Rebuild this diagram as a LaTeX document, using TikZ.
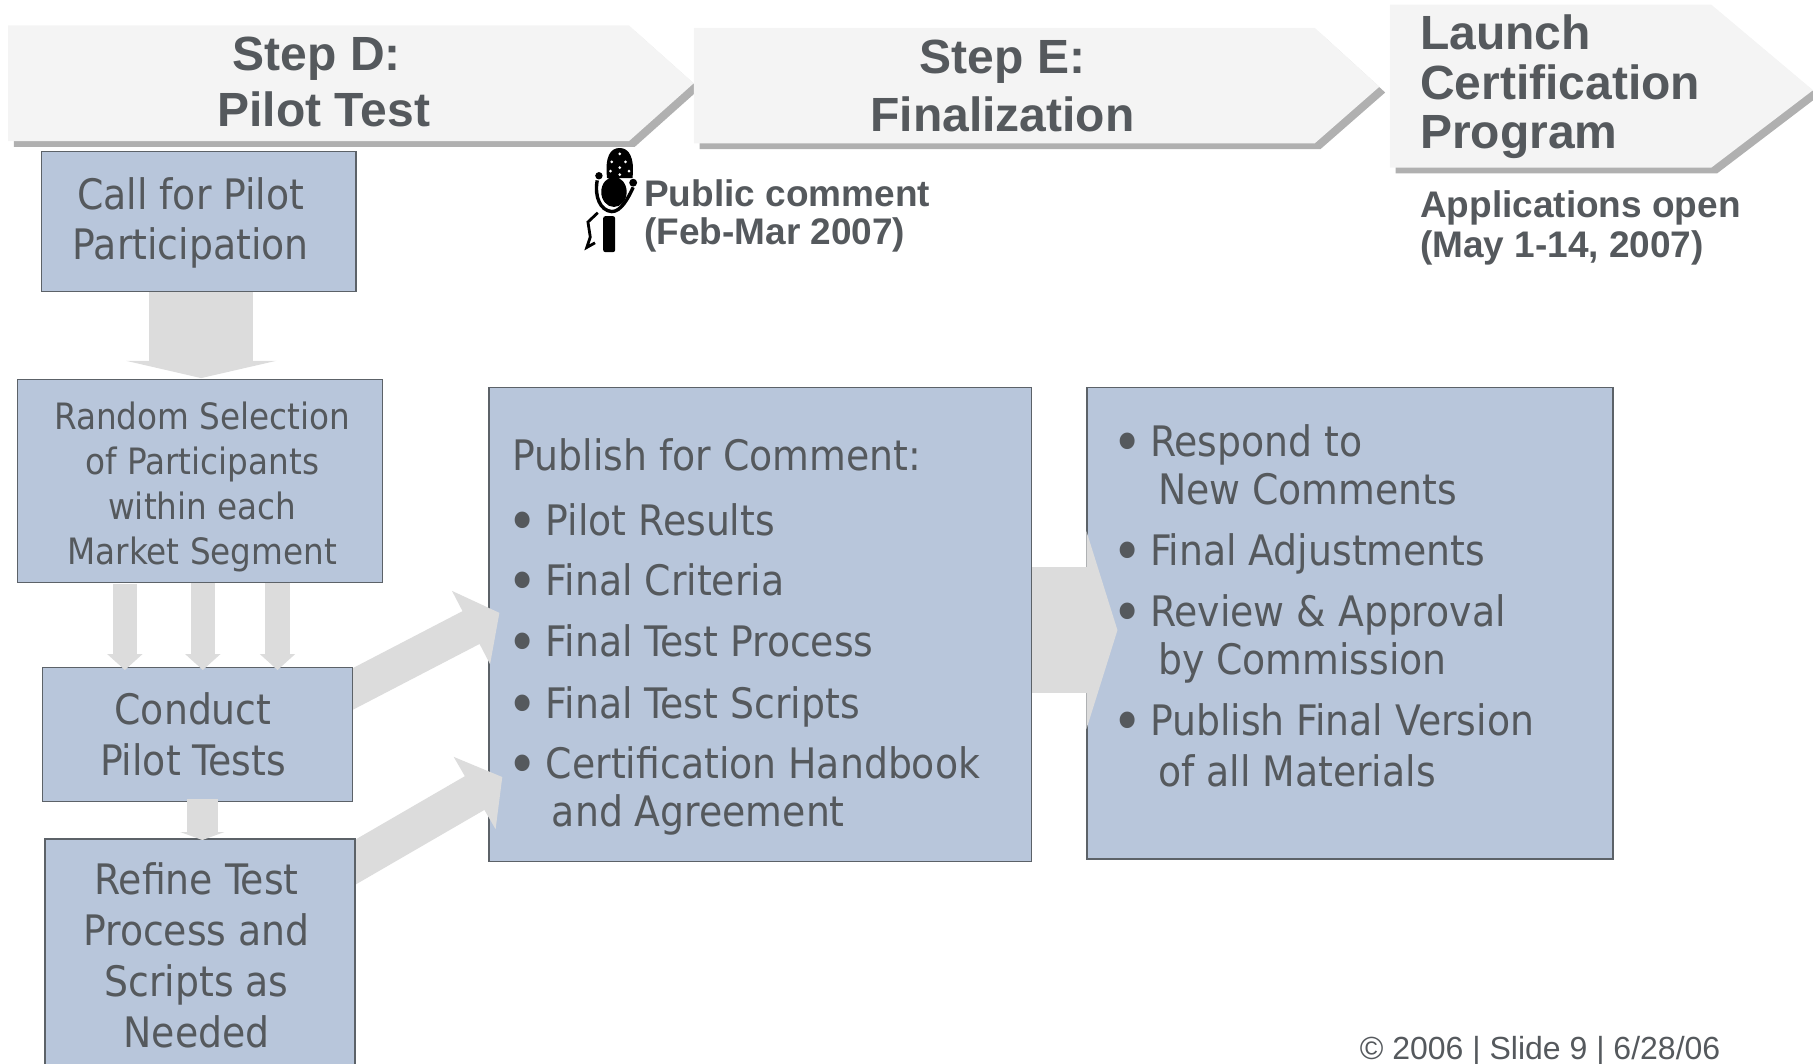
\documentclass[tikz,border=0pt]{standalone}
\usepackage{fontspec}
\usetikzlibrary{arrows.meta,calc}
\setmainfont{Liberation Sans}
\newfontfamily\boxfont{DejaVu Sans Condensed}
\definecolor{boxfill}{HTML}{B8C6DB}
\definecolor{boxline}{HTML}{5C6268}
\definecolor{inkgray}{HTML}{55595D}
\definecolor{blockgray}{HTML}{DCDCDC}
\definecolor{bannerfill}{HTML}{F4F4F4}
\definecolor{bannershade}{HTML}{B0B0B0}
\tikzset{
  x=1.1563pt,y=-1.1563pt,
  flowbox/.style={draw=boxline,line width=1.3pt,fill=boxfill,inner sep=0pt},
  boxtext/.style={text=inkgray,inner sep=0pt,align=center,font=\boxfont\fontsize{42}{50.5}\selectfont},
  listtext/.style={text=inkgray,inner sep=0pt,align=left,anchor=north west,font=\boxfont\fontsize{42}{48}\selectfont},
  banner/.style={fill=bannerfill,draw=none},
  bannershadow/.style={fill=bannershade,draw=none},
  bannertext/.style={text=inkgray,inner sep=0pt,font=\bfseries\fontsize{48}{56}\selectfont,align=center},
  notetext/.style={text=inkgray,inner sep=0pt,font=\bfseries\fontsize{37}{38}\selectfont,align=left,anchor=north west},
  bigflow/.style n args={3}{draw=blockgray,line width=#1pt,-{Triangle[length=#2pt,width=#3pt,fill=blockgray]}},
}
\newcommand{\bu}{\makebox[33pt][l]{\hspace{-5pt}\raisebox{-5.5pt}{\fontsize{57}{48}\selectfont\textbullet}}}
\begin{document}
\begin{tikzpicture}
\useasboundingbox (0,0) rectangle (1568,920);
\clip (0,0) rectangle (1568,920);
% banners
\foreach \ox/\oy/\wd/\ht/\tipdx/\tipy in {7/22/537/100/56/50,600/24/537/100/56/51,1202/4/278/141/88/74}{
  \fill[bannershadow] (\ox+5,\oy+5) -- ++(\wd,0) -- ++(\tipdx,\tipy) -- ++(-\tipdx,\ht-\tipy) -- ++(-\wd,0) -- cycle;
  \fill[banner] (\ox,\oy) -- ++(\wd,0) -- ++(\tipdx,\tipy) -- ++(-\tipdx,\ht-\tipy) -- ++(-\wd,0) -- cycle;
}
\node[bannertext] (stepd) at (274,70.5) {Step D:\\\hspace*{14pt}Pilot Test};
\node[bannertext,font=\bfseries\fontsize{48}{58}\selectfont] (stepe) at (867,74) {Step E:\\Finalization};
\node[bannertext,align=left,anchor=north west,font=\bfseries\fontsize{48}{49.7}\selectfont] (launch) at (1228,12.5) {Launch\\Certification\\Program};
\node[notetext] (pubnote) at (557,155) {Public comment\\(Feb-Mar 2007)};
\node[notetext,font=\bfseries\fontsize{37}{40}\selectfont] (appnote) at (1228,165) {Applications open\\(May 1-14, 2007)};
% microphone figure
\fill[black] (525,154) .. controls (523,135) and (528,128) .. (536,128) .. controls (544,128) and (549,136) .. (547,154) -- cycle;
\fill[white] (536,133) circle (1.3);
\fill[white] (529,140) circle (1.3);
\fill[white] (541,140) circle (1.3);
\fill[white] (536,145) circle (1.3);
\fill[white] (544,148) circle (1.3);
\fill[white] (528,148) circle (1.3);
\fill[white] (536,151) circle (1.3);
\fill[black] (531,166) ellipse (11 and 13);
\fill[black] (518,152) circle (3.2);
\fill[black] (547.6,158) circle (3.4);
\draw[black,line width=3.4pt] (516.5,156) .. controls (514,170) and (519,182) .. (529,183) .. controls (537,183) and (543,172) .. (547.6,162);
\fill[black,rounded corners=2pt] (521.7,187) rectangle (532,218);
\draw[black,line width=2.8pt] (517,184) -- (508.5,192) -- (510.5,205) -- (507.5,214) -- (514.6,210);
% boxes that arrows may overlap
\node[flowbox,minimum width=542.3pt,minimum height=474.1pt] (publish) at (657.5,540) {};
\node[flowbox,minimum width=526.1pt,minimum height=471.8pt] (respond) at (1167.5,539) {};
% block arrows
\draw[bigflow={126}{31}{197}] ($(publish.east)+(0,5)$) -- ($(respond.west)+(27,6)$);
\draw[bigflow={37}{32}{81}] ($(publish.west)+(-133,64)$) -- ($(publish.west)+(9.5,-10)$);
\draw[bigflow={39}{32}{82}] ($(publish.west)+(-133,216)$) -- ($(publish.west)+(12,132)$);
% remaining boxes
\node[flowbox,minimum width=314.5pt,minimum height=139.9pt] (call) at (172,191.5) {};
\node[flowbox,minimum width=365.4pt,minimum height=203.5pt] (random) at (173,416) {};
\node[flowbox,minimum width=309.9pt,minimum height=134.1pt] (conduct) at (171,635) {};
\node[flowbox,minimum width=309.9pt,minimum height=231pt,anchor=north] (refine) at (173,725) {};
\node[boxtext] (calltext) at (165,193) {Call for Pilot\\Participation};
\node[boxtext,font=\boxfont\fontsize{36.3}{45}\selectfont] (randomtext) at (175,421) {Random Selection\\of Participants\\within each\\Market Segment};
\node[boxtext] (conducttext) at (167,635) {Conduct\\Pilot Tests};
\node[boxtext,font=\boxfont\fontsize{42}{51}\selectfont] (refinetext) at (170,826.5) {Refine Test\\Process and\\Scripts as\\Needed};
\node[listtext] (publishlist) at ($(publish.north west)+(21,45)$) {Publish for Comment:\\[17pt]\bu Pilot Results\\[12pt]\bu Final Criteria\\[13pt]\bu Final Test Process\\[14pt]\bu Final Test Scripts\\[12pt]\bu Certification Handbook\\\hspace*{39pt}and Agreement};
\node[listtext] (respondlist) at ($(respond.north west)+(26.5,33)$) {\bu Respond to\\\hspace*{41pt}New Comments\\[13pt]\bu Final Adjustments\\[13pt]\bu Review \& Approval\\\hspace*{41pt}by Commission\\[13pt]\bu Publish Final Version\\[2.5pt]\hspace*{41pt}of all Materials};
% vertical arrows
\draw[bigflow={104}{17.3}{150}] ($(call.south)+(2,0)$) -- (174,327);
\draw[bigflow={24.5}{16}{34.5}] (108,505) -- (108,579.5);
\draw[bigflow={24.5}{16}{34.5}] (175.4,504) -- (175.4,579.5);
\draw[bigflow={24.5}{16}{34.5}] (240,504) -- (240,579.5);
\draw[bigflow={31.5}{8}{44}] (175,691) -- (175,726.5);
\node[text=inkgray,inner sep=0pt,anchor=base east,font=\fontsize{32}{36}\selectfont] (footer) at (1488,916) {© 2006 | Slide 9 | 6/28/06};
\end{tikzpicture}
\end{document}
